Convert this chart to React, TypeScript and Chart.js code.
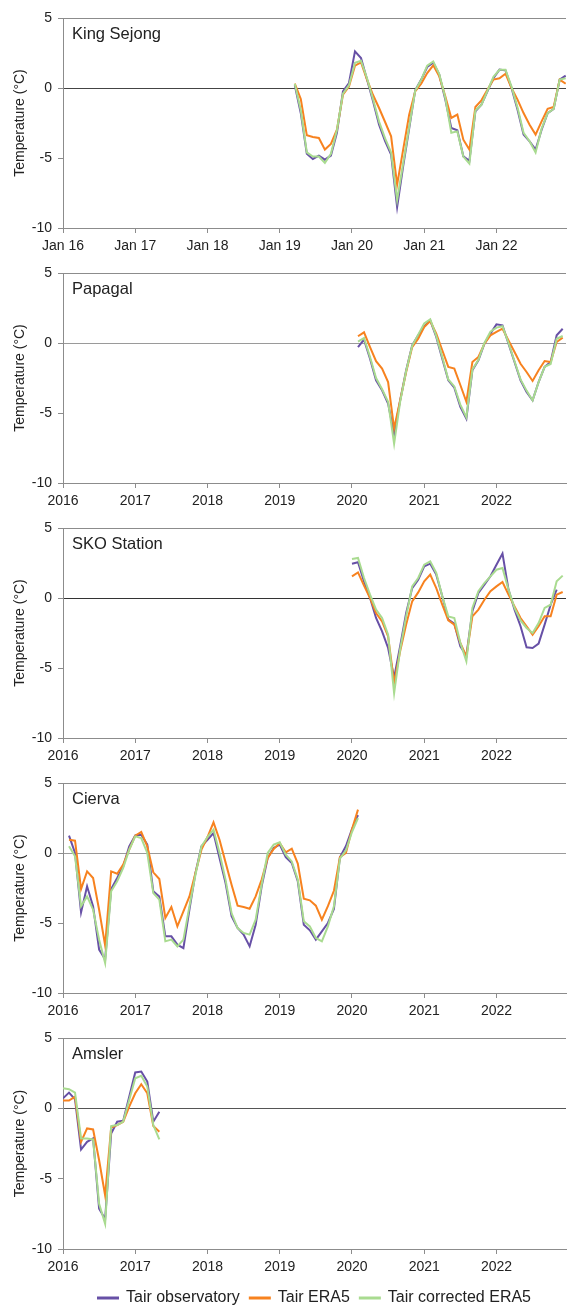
import React, { useEffect, useRef } from "react";
import { Chart, registerables } from "chart.js";

Chart.register(...registerables);

const FONT = '"Liberation Sans", Arial, Helvetica, sans-serif';
Chart.defaults.font.family = FONT;

// x positions are month indices counted from January 2016 (0)
const YEAR_TICKS = [0, 12, 24, 36, 48, 60, 72];
const LABELS_JAN = ["Jan 16", "Jan 17", "Jan 18", "Jan 19", "Jan 20", "Jan 21", "Jan 22"];
const LABELS_YEAR = ["2016", "2017", "2018", "2019", "2020", "2021", "2022"];
const Y_TICKS = [-10, -5, 0, 5];

const SERIES_NAMES = ["Tair observatory", "Tair ERA5", "Tair corrected ERA5"];
const COLORS = ["#6750a6", "#f7821f", "#a9db90"];
const DRAW_ORDER = [3, 2, 1];

// King Sejong (monthly, first value mid-March 2019)
const KS_START = 38.5;
const KS_OBS = [0.2, -1.8, -4.7, -5.07, -4.83, -5.12, -4.83, -3.2, -0.24, 0.36, 2.62, 2.14, 0.6, -0.95, -2.62, -3.8, -4.76, -8.5, -5.6, -2.9, -0.17, 0.6, 1.5, 1.8, 0.95, -0.83, -2.86, -3.02, -4.88, -5.2, -1.67, -1.19, -0.24, 0.71, 1.31, 1.26, 0, -1.55, -3.33, -3.81, -4.4, -2.98, -1.79, -1.5, 0.6, 0.88];
const KS_ERA5 = [0.31, -0.79, -3.38, -3.5, -3.57, -4.4, -4.0, -2.98, -0.48, 0.1, 1.6, 1.83, 0.6, -0.5, -1.43, -2.43, -3.45, -6.9, -4.4, -1.9, -0.24, 0.3, 1.07, 1.62, 0.83, -0.6, -2.14, -1.9, -3.69, -4.4, -1.36, -0.88, -0.12, 0.6, 0.69, 1.02, 0.0, -0.83, -1.79, -2.62, -3.33, -2.38, -1.48, -1.36, 0.6, 0.31];
const KS_CORR = [0.3, -1.6, -4.6, -4.9, -4.9, -5.35, -4.7, -3.0, -0.4, 0.2, 1.8, 1.95, 0.7, -0.8, -2.4, -3.6, -4.6, -8.0, -5.4, -2.8, -0.2, 0.6, 1.6, 1.9, 1.0, -0.7, -3.2, -3.1, -4.9, -5.4, -1.6, -1.2, -0.2, 0.8, 1.3, 1.3, 0.1, -1.4, -3.2, -3.8, -4.6, -2.9, -1.8, -1.5, 0.6, 0.7];

// Papagal (from February 2020)
const PA_START = 49;
const PA_OBS = [-0.29, 0.24, -1.12, -2.67, -3.38, -4.33, -6.5, -4.1, -1.95, -0.17, 0.55, 1.19, 1.62, 0.43, -1.12, -2.67, -3.19, -4.57, -5.4, -1.95, -1.24, -0.05, 0.67, 1.33, 1.26, -0.05, -1.36, -2.67, -3.5, -4.1, -2.79, -1.71, -1.36, 0.55, 1.02];
const PA_ERA5 = [0.48, 0.76, -0.29, -1.3, -1.83, -2.79, -6.1, -4.1, -2.07, -0.29, 0.31, 1.14, 1.57, 0.67, -0.52, -1.71, -1.83, -3.0, -4.2, -1.36, -1.0, -0.05, 0.55, 0.79, 1.02, 0.19, -0.64, -1.48, -2.07, -2.71, -1.95, -1.29, -1.36, 0.07, 0.38];
const PA_CORR = [0.1, 0.35, -1.0, -2.5, -3.3, -4.2, -7.2, -4.2, -2.0, -0.2, 0.6, 1.4, 1.7, 0.5, -1.0, -2.6, -3.1, -4.4, -5.3, -1.9, -1.2, 0.0, 0.8, 1.1, 1.2, 0.0, -1.3, -2.6, -3.4, -4.1, -2.8, -1.7, -1.5, 0.3, 0.5];

// SKO Station (from January 2020)
const SKO_START = 48;
const SKO_OBS = [2.45, 2.55, 1.19, 0, -1.43, -2.38, -3.57, -5.7, -3.45, -1.07, 0.71, 1.31, 2.26, 2.45, 1.67, 0.12, -1.55, -1.83, -3.45, -4.12, -0.95, 0.36, 0.95, 1.55, 2.38, 3.17, 0.6, -0.83, -2.02, -3.52, -3.57, -3.26, -1.9, -0.48, 0.6];
const SKO_ERA5 = [1.55, 1.83, 0.88, 0, -1.07, -1.67, -2.74, -6.07, -3.8, -1.9, -0.24, 0.4, 1.19, 1.67, 0.71, -0.48, -1.6, -1.9, -3.2, -4.17, -1.31, -0.83, -0.12, 0.48, 0.83, 1.14, 0.24, -0.6, -1.43, -2.02, -2.62, -2.02, -1.31, -1.31, 0.24, 0.43];
const SKO_CORR = [2.79, 2.86, 1.43, 0.24, -0.83, -1.43, -2.62, -6.79, -3.69, -1.31, 0.83, 1.43, 2.38, 2.62, 1.79, 0.12, -1.31, -1.43, -3.2, -4.52, -0.71, 0.48, 1.07, 1.55, 2.02, 2.14, 0.6, -0.71, -1.6, -2.14, -2.5, -1.79, -0.71, -0.48, 1.19, 1.6];

// Cierva (from February 2016)
const CI_START = 1;
const CI_OBS = [1.24, 0, -4.24, -2.38, -3.81, -6.9, -7.6, -2.57, -1.79, -0.95, 0.48, 1.26, 1.31, 0.6, -2.74, -3.1, -5.95, -5.95, -6.55, -6.79, -4.05, -1.43, 0.48, 0.95, 1.43, -0.36, -2.14, -4.52, -5.36, -5.83, -6.67, -5.12, -2.38, -0.36, 0.36, 0.6, -0.29, -0.71, -2.02, -5.12, -5.52, -6.19, -5.6, -5.0, -4.0, -0.3, 0.5, 1.7, 2.7];
const CI_ERA5 = [0.95, 0.88, -2.57, -1.31, -1.79, -4.05, -6.6, -1.31, -1.48, -0.83, 0.24, 1.24, 1.5, 0.48, -1.38, -1.86, -4.64, -3.86, -5.24, -4.17, -3.1, -1.43, 0.24, 1.14, 2.19, 0.95, -0.67, -2.26, -3.76, -3.86, -3.98, -3.1, -1.9, -0.36, 0.29, 0.71, 0.05, 0.31, -0.76, -3.26, -3.38, -3.76, -4.76, -3.8, -2.7, -0.3, 0.0, 1.7, 3.1];
const CI_CORR = [0.48, -0.24, -3.81, -3.1, -4.05, -6.19, -7.86, -2.74, -2.02, -1.07, 0.24, 1.19, 1.07, 0, -2.86, -3.33, -6.31, -6.19, -6.67, -6.19, -3.81, -1.55, 0.48, 1.14, 1.67, 0, -1.9, -4.29, -5.36, -5.71, -5.83, -4.76, -2.26, 0, 0.6, 0.76, -0.12, -0.6, -1.9, -4.88, -5.24, -6.07, -6.31, -5.24, -3.81, -0.4, 0.2, 1.5, 2.5];

// Amsler (from January 2016)
const AM_START = 0;
const AM_OBS = [0.71, 1.12, 0.64, -2.93, -2.38, -2.14, -7.14, -7.86, -1.79, -0.95, -0.88, 0.83, 2.55, 2.62, 1.9, -0.95, -0.24];
const AM_ERA5 = [0.55, 0.55, 0.83, -2.38, -1.43, -1.5, -3.69, -6.19, -1.36, -1.19, -0.95, 0.12, 1.07, 1.71, 1.07, -1.26, -1.67];
const AM_CORR = [1.43, 1.36, 1.12, -2.14, -2.14, -2.21, -6.79, -8.21, -1.26, -1.19, -0.95, 0.6, 2.14, 2.31, 1.55, -1.19, -2.21];

const AXIS = "#8c8c8c";
const TEXT = "#222222";

type PanelDef = {
  name: string;
  start: number;
  series: number[][];
  labels: string[];
  zero: string;
  top: number;
  height: number;
  axisHeight: number;
  last: boolean;
};

const PANELS: PanelDef[] = [
  { name: "King Sejong", start: KS_START, series: [KS_OBS, KS_ERA5, KS_CORR], labels: LABELS_JAN, zero: "#444444", top: 0, height: 255, axisHeight: 27, last: false },
  { name: "Papagal", start: PA_START, series: [PA_OBS, PA_ERA5, PA_CORR], labels: LABELS_YEAR, zero: "#9a9a9a", top: 255, height: 255, axisHeight: 27, last: false },
  { name: "SKO Station", start: SKO_START, series: [SKO_OBS, SKO_ERA5, SKO_CORR], labels: LABELS_YEAR, zero: "#333333", top: 510, height: 255, axisHeight: 27, last: false },
  { name: "Cierva", start: CI_START, series: [CI_OBS, CI_ERA5, CI_CORR], labels: LABELS_YEAR, zero: "#9a9a9a", top: 765, height: 255, axisHeight: 27, last: false },
  { name: "Amsler", start: AM_START, series: [AM_OBS, AM_ERA5, AM_CORR], labels: LABELS_YEAR, zero: "#555555", top: 1020, height: 296, axisHeight: 31, last: true },
];

const stationLabel = {
  id: "stationLabel",
  afterDatasetsDraw(chart: any, _args: any, opts: any) {
    const { ctx, chartArea } = chart;
    ctx.save();
    ctx.font = `16.5px ${FONT}`;
    ctx.fillStyle = TEXT;
    ctx.textAlign = "left";
    ctx.textBaseline = "middle";
    ctx.fillText(opts.text, chartArea.left + 9, chartArea.top + 16);
    ctx.restore();
  },
};

function Panel({ def }: { def: PanelDef }) {
  const ref = useRef<HTMLCanvasElement | null>(null);
  useEffect(() => {
    if (!ref.current) return;
    const datasets = def.series.map((vals, k) => ({
      label: SERIES_NAMES[k],
      data: vals.map((v, i) => ({ x: def.start + i, y: v })),
      borderColor: COLORS[k],
      backgroundColor: COLORS[k],
      borderWidth: 2,
      pointRadius: 0,
      tension: 0,
      order: DRAW_ORDER[k],
    }));
    const chart = new Chart(ref.current, {
      type: "line",
      data: { datasets },
      plugins: [stationLabel],
      options: {
        responsive: false,
        maintainAspectRatio: false,
        animation: false,
        layout: { padding: { top: 18, right: 2, left: 0, bottom: 0 } },
        plugins: {
          tooltip: { enabled: false },
          stationLabel: { text: def.name },
          legend: def.last
            ? {
                display: true,
                position: "bottom",
                fullSize: false,
                labels: {
                  boxWidth: 20,
                  boxHeight: 1,
                  padding: 10,
                  color: TEXT,
                  font: { size: 16 },
                  sort: (a: any, b: any) => a.datasetIndex - b.datasetIndex,
                },
              }
            : { display: false },
        } as any,
        scales: {
          x: {
            type: "linear",
            min: 0,
            max: 83.55,
            afterBuildTicks: (s: any) => {
              s.ticks = YEAR_TICKS.map((v) => ({ value: v }));
            },
            afterFit: (s: any) => {
              s.height = def.axisHeight;
            },
            ticks: {
              autoSkip: false,
              maxRotation: 0,
              padding: 5,
              color: TEXT,
              font: { size: 14 },
              callback: (v: any) => {
                const i = YEAR_TICKS.indexOf(Number(v));
                return i >= 0 ? def.labels[i] : "";
              },
            },
            grid: {
              drawOnChartArea: false,
              color: AXIS,
              tickColor: AXIS,
              tickLength: 5,
            },
            border: { display: true, color: AXIS },
          },
          y: {
            type: "linear",
            min: -10,
            max: 5,
            afterBuildTicks: (s: any) => {
              s.ticks = Y_TICKS.map((v) => ({ value: v }));
            },
            afterFit: (s: any) => {
              s.width = 63;
            },
            ticks: {
              padding: 6,
              color: TEXT,
              font: { size: 14 },
            },
            grid: {
              color: (ctx: any) => {
                const v = ctx.tick ? ctx.tick.value : null;
                if (v === 0) return def.zero;
                if (v === 5) return AXIS;
                return "rgba(0,0,0,0)";
              },
              tickColor: AXIS,
              tickLength: 5,
              lineWidth: 1,
            },
            border: { display: true, color: AXIS },
            title: {
              display: true,
              text: "Temperature (°C)",
              color: TEXT,
              font: { size: 14 },
              padding: { top: 12, bottom: 0 },
            },
          },
        },
      } as any,
    });
    return () => chart.destroy();
  }, [def]);
  return (
    <canvas
      ref={ref}
      width={568}
      height={def.height}
      style={{ position: "absolute", left: 0, top: def.top, width: 568, height: def.height, display: "block" }}
    />
  );
}

export default function App() {
  return (
    <div
      style={{
        position: "absolute",
        left: 0,
        top: 0,
        width: 568,
        height: 1307,
        overflow: "hidden",
        background: "#ffffff",
      }}
    >
      {PANELS.map((p) => (
        <Panel key={p.name} def={p} />
      ))}
    </div>
  );
}
